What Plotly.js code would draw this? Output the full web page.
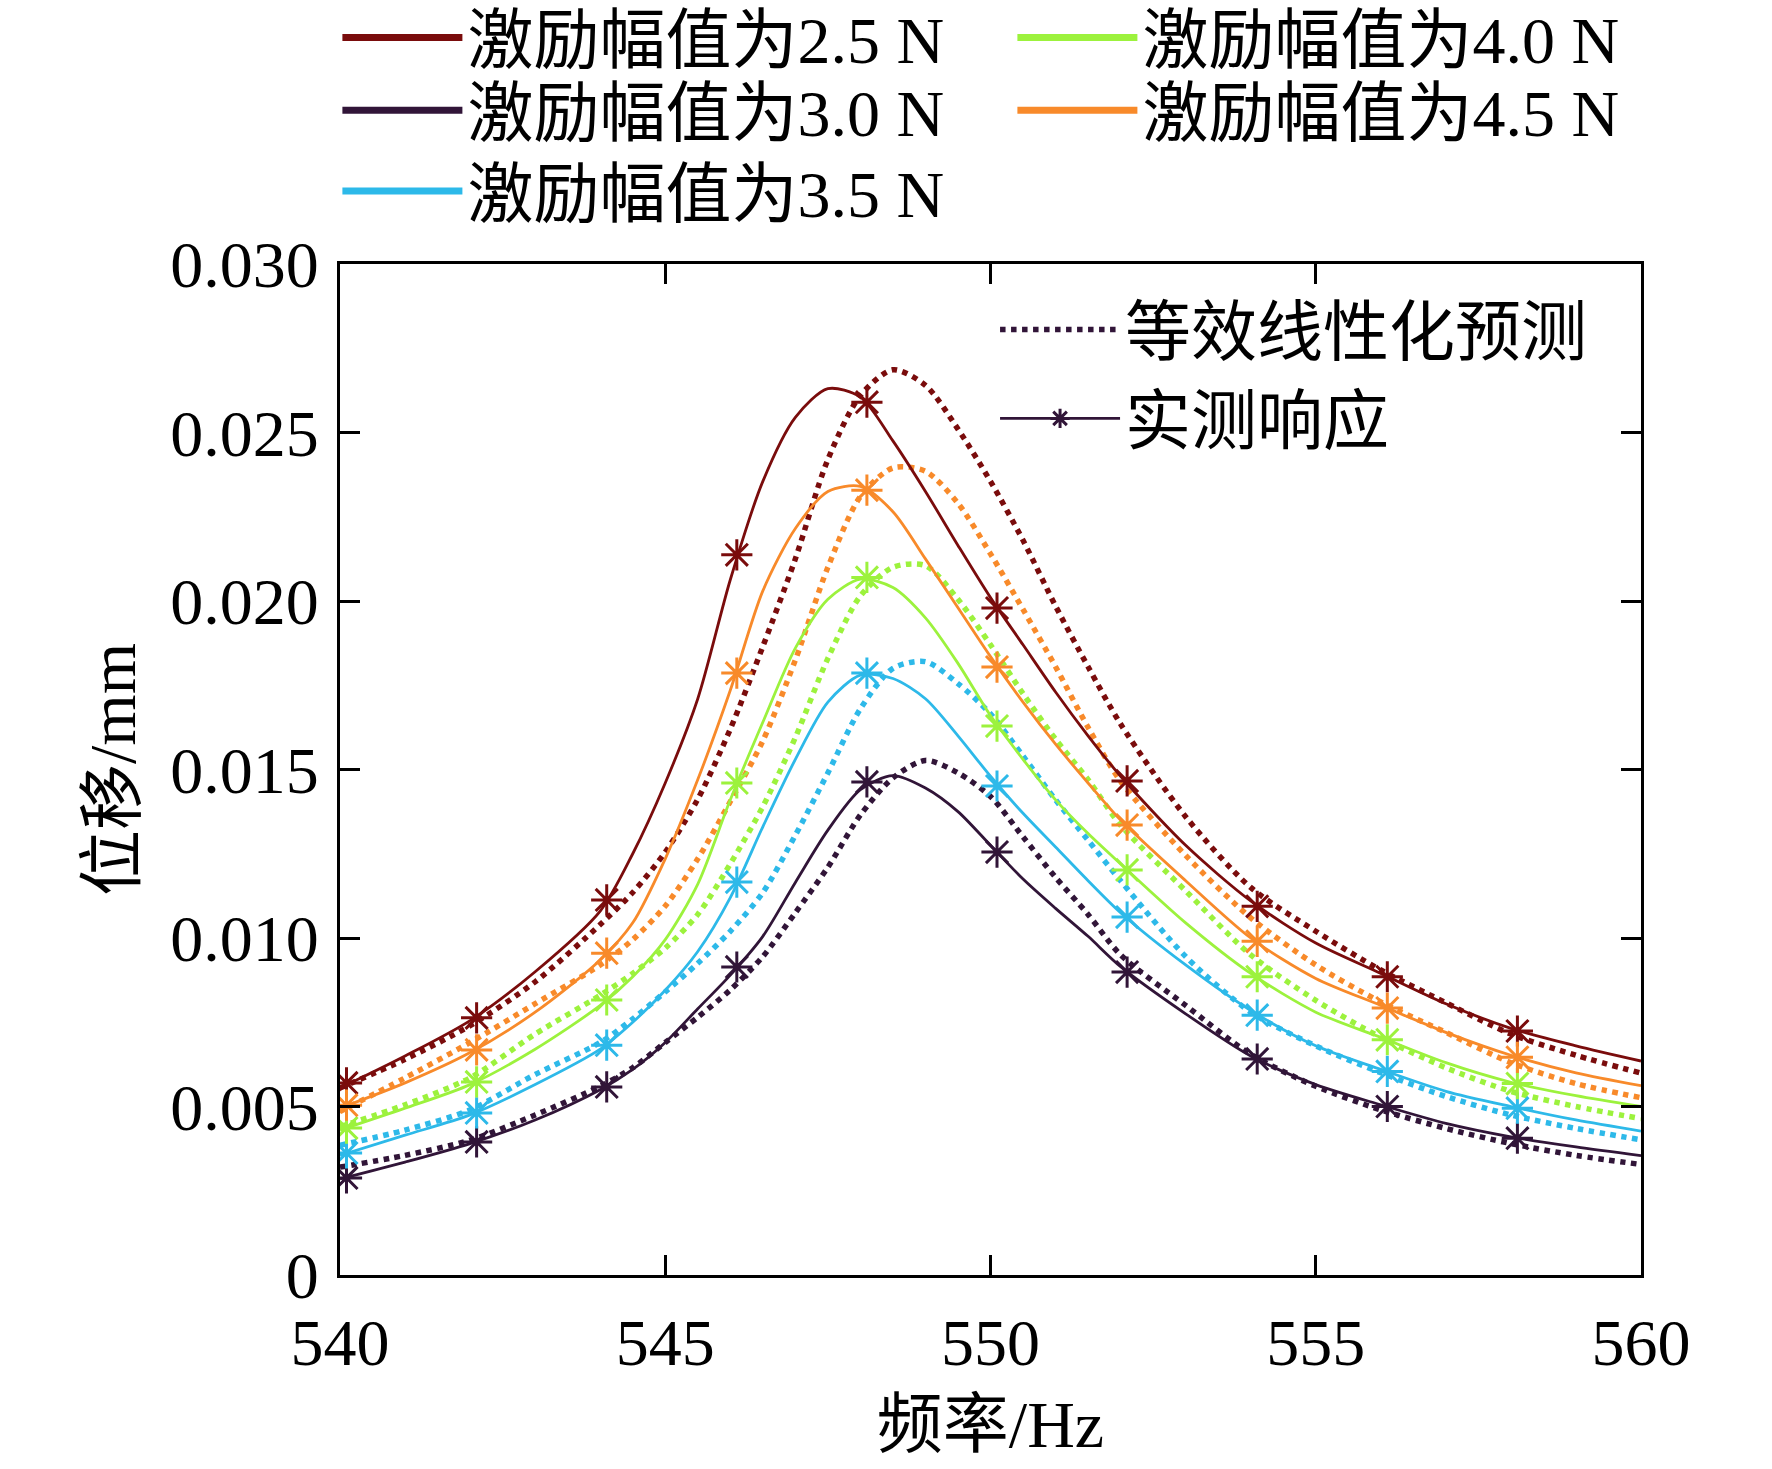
<!DOCTYPE html>
<html>
<head>
<meta charset="utf-8">
<script src="https://cdn.plot.ly/plotly-3.0.1.min.js"></script>
<style>
  html, body { margin: 0; padding: 0; background: #ffffff; }
  #chart { width: 1772px; height: 1469px; }
</style>
</head>
<body>
<div id="chart"></div>
<script>
(function () {
  'use strict';

  // ── Data ──

  // frequency grid for the continuous curves (Hz)
  var FREQ = [540, 541, 542, 543, 544, 544.5, 545, 545.5, 546, 546.5, 547, 547.5, 548, 548.5,
              549, 549.5, 550, 550.5, 551, 551.5, 552, 553, 554, 555, 556, 557, 558, 559, 560];
  // frequencies of the measured points (Hz)
  var MEAS_FREQ = [540.1, 542.1, 544.1, 546.1, 548.1, 550.1, 552.1, 554.1, 556.1, 558.1];

  var AMP_LABELS = ['激励幅值为2.5 N', '激励幅值为3.0 N', '激励幅值为3.5 N', '激励幅值为4.0 N', '激励幅值为4.5 N'];
  var STYLE_LABELS = ['等效线性化预测', '实测响应'];
  var Y_TICKS = [0, 0.005, 0.010, 0.015, 0.020, 0.025, 0.030];
  var Y_TICK_TEXT = ['0', '0.005', '0.010', '0.015', '0.020', '0.025', '0.030'];
  var X_TICKS = [540, 545, 550, 555, 560];

  // measured response (mm) at MEAS_FREQ
  var meas25 = [0.00570, 0.00763, 0.01113, 0.02137, 0.02590, 0.01979, 0.01466, 0.01094, 0.00885, 0.00724];
  var meas30 = [0.00288, 0.00395, 0.00558, 0.00914, 0.01463, 0.01255, 0.00899, 0.00641, 0.00500, 0.00406];
  var meas35 = [0.00362, 0.00481, 0.00682, 0.01166, 0.01786, 0.01451, 0.01062, 0.00771, 0.00604, 0.00495];
  var meas40 = [0.00436, 0.00573, 0.00816, 0.01460, 0.02070, 0.01629, 0.01202, 0.00885, 0.00698, 0.00568];
  var meas45 = [0.00504, 0.00668, 0.00955, 0.01786, 0.02329, 0.01804, 0.01335, 0.00990, 0.00792, 0.00646];

  // measured response curve (mm) at FREQ
  var curve25 = [0.00555, 0.00650, 0.00755, 0.00900, 0.01080, 0.01250, 0.01460, 0.01710, 0.02063, 0.02355,
                 0.02545, 0.02630, 0.02605, 0.02475, 0.02325, 0.02165, 0.02010, 0.01870, 0.01730, 0.01600,
                 0.01480, 0.01275, 0.01110, 0.00985, 0.00895, 0.00805, 0.00732, 0.00680, 0.00635];
  var curve30 = [0.00285, 0.00335, 0.00390, 0.00460, 0.00550, 0.00610, 0.00690, 0.00790, 0.00890, 0.01005,
                 0.01165, 0.01320, 0.01440, 0.01482, 0.01445, 0.01375, 0.01275, 0.01175, 0.01088, 0.01005,
                 0.00915, 0.00775, 0.00650, 0.00565, 0.00505, 0.00450, 0.00410, 0.00380, 0.00354];
  var curve35 = [0.00355, 0.00415, 0.00475, 0.00565, 0.00670, 0.00750, 0.00845, 0.00960, 0.01120, 0.01330,
                 0.01530, 0.01700, 0.01780, 0.01770, 0.01710, 0.01600, 0.01480, 0.01370, 0.01270, 0.01170,
                 0.01075, 0.00920, 0.00785, 0.00680, 0.00610, 0.00545, 0.00500, 0.00460, 0.00427];
  var curve40 = [0.00430, 0.00495, 0.00565, 0.00670, 0.00800, 0.00885, 0.00995, 0.01160, 0.01410, 0.01640,
                 0.01860, 0.02005, 0.02065, 0.02040, 0.01950, 0.01815, 0.01660, 0.01530, 0.01410, 0.01310,
                 0.01220, 0.01045, 0.00895, 0.00780, 0.00705, 0.00630, 0.00572, 0.00532, 0.00500];
  var curve45 = [0.00495, 0.00570, 0.00660, 0.00780, 0.00935, 0.01045, 0.01235, 0.01470, 0.01735, 0.02030,
                 0.02215, 0.02325, 0.02340, 0.02265, 0.02125, 0.01980, 0.01835, 0.01700, 0.01575, 0.01460,
                 0.01350, 0.01170, 0.01000, 0.00880, 0.00800, 0.00720, 0.00652, 0.00600, 0.00562];

  // equivalent-linearization prediction (mm) at FREQ
  var pred25 = [0.00555, 0.00640, 0.00740, 0.00870, 0.01040, 0.01135, 0.01255, 0.01412, 0.01620, 0.01865,
                0.02125, 0.02420, 0.02610, 0.02686, 0.02640, 0.02510, 0.02355, 0.02180, 0.01985, 0.01805,
                0.01635, 0.01360, 0.01150, 0.01020, 0.00905, 0.00808, 0.00715, 0.00652, 0.00599];
  var pred30 = [0.00320, 0.00355, 0.00400, 0.00475, 0.00560, 0.00615, 0.00690, 0.00765, 0.00846, 0.00945,
                0.01075, 0.01210, 0.01365, 0.01475, 0.01527, 0.01490, 0.01420, 0.01300, 0.01180, 0.01070,
                0.00950, 0.00800, 0.00655, 0.00560, 0.00490, 0.00435, 0.00390, 0.00355, 0.00328];
  var pred35 = [0.00385, 0.00430, 0.00490, 0.00595, 0.00690, 0.00760, 0.00840, 0.00925, 0.01020, 0.01135,
                0.01305, 0.01490, 0.01680, 0.01800, 0.01820, 0.01755, 0.01665, 0.01540, 0.01410, 0.01290,
                0.01170, 0.00945, 0.00780, 0.00680, 0.00600, 0.00530, 0.00475, 0.00435, 0.00401];
  var pred40 = [0.00440, 0.00505, 0.00585, 0.00715, 0.00830, 0.00895, 0.00970, 0.01070, 0.01220, 0.01390,
                0.01595, 0.01830, 0.02015, 0.02100, 0.02105, 0.02005, 0.01870, 0.01725, 0.01590, 0.01470,
                0.01335, 0.01140, 0.00950, 0.00815, 0.00705, 0.00615, 0.00545, 0.00500, 0.00464];
  var pred45 = [0.00485, 0.00585, 0.00690, 0.00805, 0.00920, 0.00995, 0.01095, 0.01235, 0.01405, 0.01585,
                0.01825, 0.02100, 0.02310, 0.02395, 0.02385, 0.02290, 0.02140, 0.01975, 0.01805, 0.01625,
                0.01465, 0.01245, 0.01060, 0.00920, 0.00810, 0.00720, 0.00630, 0.00568, 0.00526];

  // ── Styling ──

  var SERIES_COLORS = ['#7a0c0c', '#311538', '#2db9e9', '#9cf23d', '#f88a2a'];
  // legend rows: 2.5 | 4.0, then 3.0 | 4.5, then 3.5
  var LEGEND_ROW = ['legend', 'legend3', 'legend4', 'legend', 'legend3'];
  var FONT = '"Liberation Serif", "Times New Roman", "Noto Sans CJK SC", serif';
  var FONT_SIZE = 66;
  var BLACK = '#000000';

  var measured = [meas25, meas30, meas35, meas40, meas45];
  var curves = [curve25, curve30, curve35, curve40, curve45];
  var predicted = [pred25, pred30, pred35, pred40, pred45];

  var traces = [];

  // predictions first, measured curves on top
  predicted.forEach(function (ys, i) {
    traces.push({
      x: FREQ, y: ys,
      mode: 'lines',
      line: { color: SERIES_COLORS[i], width: 5.5, dash: 'dot', shape: 'spline', smoothing: 0.8 },
      showlegend: false,
      hoverinfo: 'skip',
    });
  });
  curves.forEach(function (ys, i) {
    traces.push({
      x: FREQ, y: ys,
      mode: 'lines',
      line: { color: SERIES_COLORS[i], width: 2.8, shape: 'spline', smoothing: 0.8 },
      showlegend: false,
      hoverinfo: 'skip',
    });
  });
  measured.forEach(function (ys, i) {
    traces.push({
      x: MEAS_FREQ, y: ys,
      mode: 'markers',
      marker: { symbol: 'asterisk-open', size: 26, color: SERIES_COLORS[i], line: { color: SERIES_COLORS[i], width: 3 } },
      showlegend: false,
      hoverinfo: 'skip',
    });
  });

  // legend entries: colour per excitation amplitude
  AMP_LABELS.forEach(function (label, i) {
    traces.push({
      x: [null], y: [null],
      mode: 'lines',
      name: label,
      line: { color: SERIES_COLORS[i], width: 7 },
      legend: LEGEND_ROW[i],
      hoverinfo: 'skip',
    });
  });

  // legend entries: line style per data kind
  traces.push({
    x: [null], y: [null],
    mode: 'lines',
    name: STYLE_LABELS[0],
    line: { color: SERIES_COLORS[1], width: 5.5, dash: 'dot' },
    legend: 'legend2',
    hoverinfo: 'skip',
  });
  traces.push({
    x: [null], y: [null],
    mode: 'lines+markers',
    name: STYLE_LABELS[1],
    line: { color: SERIES_COLORS[1], width: 2.8 },
    marker: { symbol: 'asterisk-open', size: 26, color: SERIES_COLORS[1], line: { color: SERIES_COLORS[1], width: 3 } },
    legend: 'legend2',
    hoverinfo: 'skip',
  });

  var axisBase = {
    showline: true,
    linecolor: BLACK,
    linewidth: 3,
    mirror: 'ticks',
    ticks: 'inside',
    ticklen: 20,
    tickwidth: 3,
    tickcolor: BLACK,
    showgrid: false,
    zeroline: false,
    tickfont: { family: FONT, size: FONT_SIZE, color: BLACK },
  };

  function rowLegend(y) {
    return {
      orientation: 'h',
      x: -0.002, y: y,
      xanchor: 'left', yanchor: 'top',
      bgcolor: 'rgba(0,0,0,0)',
      borderwidth: 0,
      itemwidth: 120,
      entrywidth: 540,
      entrywidthmode: 'pixels',
      font: { family: FONT, size: FONT_SIZE, color: BLACK },
    };
  }

  var layout = {
    width: 1772,
    height: 1469,
    paper_bgcolor: '#ffffff',
    plot_bgcolor: '#ffffff',
    font: { family: FONT, size: FONT_SIZE, color: BLACK },
    margin: { l: 340, r: 131, t: 264, b: 194, autoexpand: false },
    xaxis: Object.assign({}, axisBase, {
      range: [540, 560],
      tickvals: X_TICKS,
      ticklabelstandoff: 8,
      title: { text: '频率/Hz', font: { family: FONT, size: FONT_SIZE, color: BLACK }, standoff: 23 },
    }),
    yaxis: Object.assign({}, axisBase, {
      range: [0, 0.03],
      tickvals: Y_TICKS,
      ticktext: Y_TICK_TEXT,
      ticklabelstandoff: 5,
      title: { text: '位移/mm', font: { family: FONT, size: FONT_SIZE, color: BLACK }, standoff: 14 },
    }),
    showlegend: true,
    legend: rowLegend(1.273),
    legend3: rowLegend(1.201),
    legend4: rowLegend(1.121),
    legend2: {
      x: 0.5035, y: 0.984,
      xanchor: 'left', yanchor: 'top',
      bgcolor: 'rgba(0,0,0,0)',
      borderwidth: 0,
      itemwidth: 120,
      font: { family: FONT, size: FONT_SIZE, color: BLACK },
      tracegroupgap: 0,
    },
  };

  Plotly.newPlot('chart', traces, layout, { displayModeBar: false, staticPlot: true });
})();
</script>
</body>
</html>
